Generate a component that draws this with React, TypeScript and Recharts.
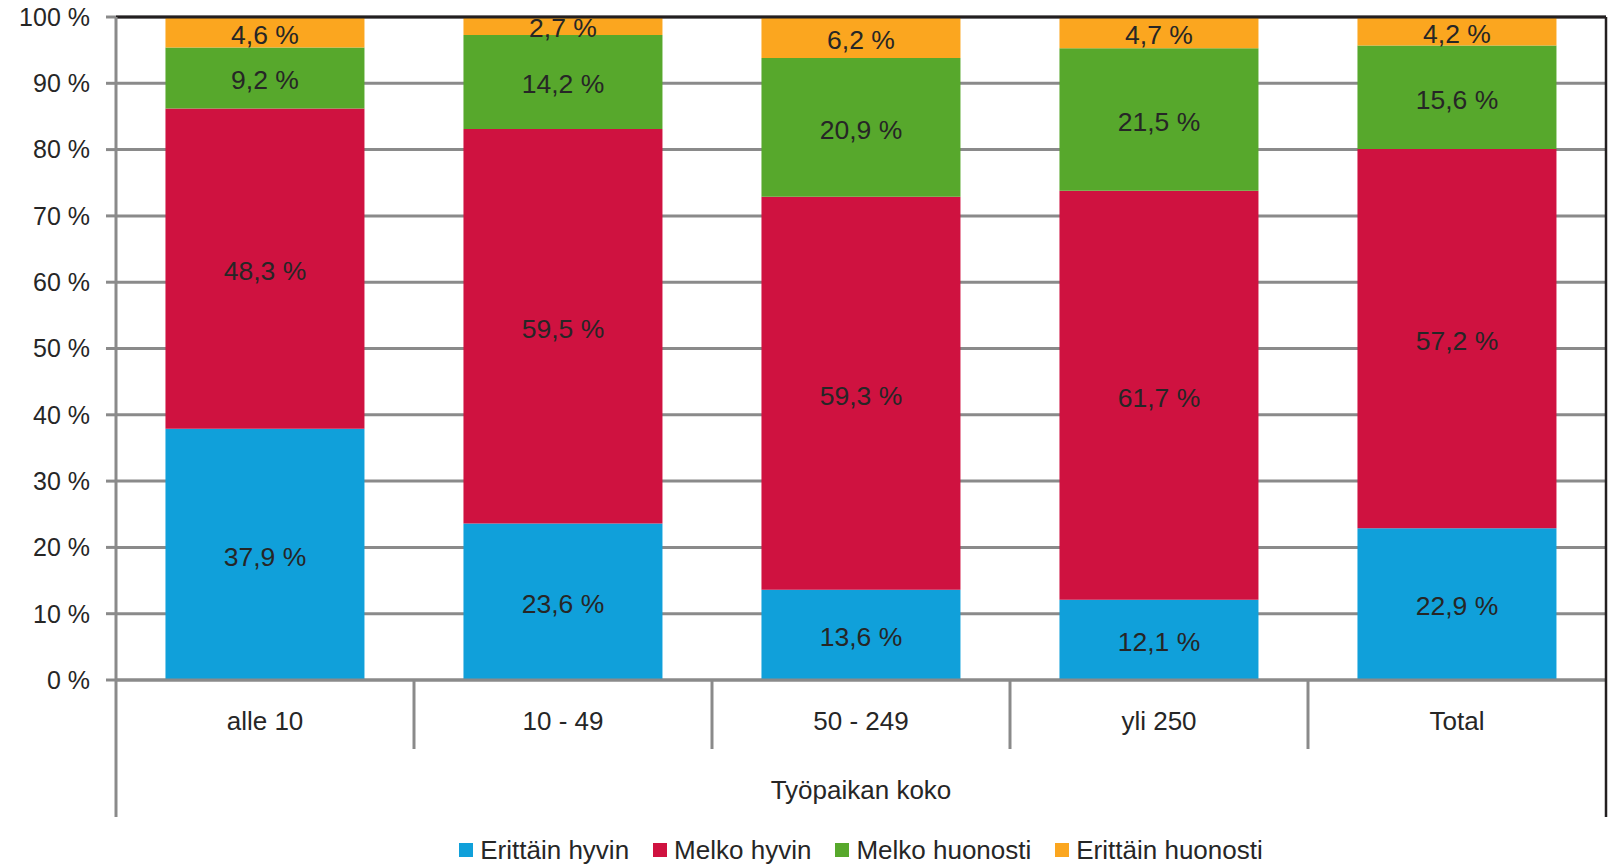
import React from 'react';
import { BarChart, Bar, XAxis, YAxis, CartesianGrid, LabelList, ReferenceLine, Legend } from 'recharts';

const categories = ['alle 10', '10 - 49', '50 - 249', 'yli 250', 'Total'];
const erittainHyvin = [37.9, 23.6, 13.6, 12.1, 22.9];
const melkoHyvin = [48.3, 59.5, 59.3, 61.7, 57.2];
const melkoHuonosti = [9.2, 14.2, 20.9, 21.5, 15.6];
const erittainHuonosti = [4.6, 2.7, 6.2, 4.7, 4.2];
const yTicks = [0, 10, 20, 30, 40, 50, 60, 70, 80, 90, 100];
const seriesNames = ['Erittäin hyvin', 'Melko hyvin', 'Melko huonosti', 'Erittäin huonosti'];
const seriesKeys = ['eh', 'mh', 'mhu', 'ehu'];
const seriesColors = ['#10A0DA', '#CF1240', '#57A82C', '#FBA61F'];
const axisTitle = 'Työpaikan koko';

const data = categories.map((c, i) => ({
  name: c,
  eh: erittainHyvin[i],
  mh: melkoHyvin[i],
  mhu: melkoHuonosti[i],
  ehu: erittainHuonosti[i],
}));

const W = 1608;
const H = 865;
const MARGIN = { top: 17, right: 2, bottom: 0, left: 0 };
const YAXIS_W = 116;
const XAXIS_H = 185;
const PLOT_W = W - MARGIN.left - MARGIN.right - YAXIS_W;
const PLOT_H = H - MARGIN.top - MARGIN.bottom - XAXIS_H;
const STEP = PLOT_W / categories.length;

const FONT = '"Liberation Sans", Arial, sans-serif';
const TEXT = '#262626';
const GRID = '#8a8a8a';
const DARK = '#231f20';

const fmt = (v: number) => v.toFixed(1).replace('.', ',') + ' %';

function CategoryTick(props: any) {
  const { x, y, payload, index } = props;
  const half = STEP / 2;
  const left = x - half;
  const right = x + half;
  const isLast = index === categories.length - 1;
  return (
    <g>
      {index === 0 ? (
        <line x1={left} x2={left} y1={y} y2={y + 137} stroke={GRID} strokeWidth={3} />
      ) : (
        <line x1={left} x2={left} y1={y} y2={y + 69} stroke={GRID} strokeWidth={3} />
      )}
      {isLast && (
        <line x1={right} x2={right} y1={y - PLOT_H} y2={y + 137} stroke={DARK} strokeWidth={2.5} />
      )}
      <text x={x} y={y + 50} textAnchor="middle" fontSize={26} fontFamily={FONT} fill={TEXT}>
        {payload.value}
      </text>
    </g>
  );
}

function LegendContent() {
  return (
    <div
      style={{
        display: 'flex',
        justifyContent: 'center',
        alignItems: 'center',
        fontFamily: FONT,
        fontSize: 26,
        lineHeight: 1,
        color: TEXT,
      }}
    >
      {seriesNames.map((n, i) => (
        <div key={n} style={{ display: 'flex', alignItems: 'center', marginRight: i < seriesNames.length - 1 ? 24 : 0 }}>
          <span style={{ display: 'inline-block', width: 14, height: 14, background: seriesColors[i], marginRight: 7 }} />
          <span>{n}</span>
        </div>
      ))}
    </div>
  );
}

export default function App() {
  return (
    <div style={{ position: 'absolute', left: 0, top: 0, width: W, height: H, background: '#fff' }}>
      <BarChart width={W} height={H} data={data} margin={MARGIN} barCategoryGap="16.6%">
        <CartesianGrid vertical={false} stroke={GRID} strokeWidth={3} />
        <XAxis
          dataKey="name"
          height={XAXIS_H}
          interval={0}
          tickLine={false}
          tickSize={0}
          tickMargin={0}
          axisLine={{ stroke: GRID, strokeWidth: 3 }}
          tick={(p: any) => <CategoryTick {...p} />}
          label={{
            content: (lp: any) => {
              const vb = lp.viewBox || {};
              return (
                <text
                  x={vb.x + vb.width / 2}
                  y={vb.y + 119}
                  textAnchor="middle"
                  fontSize={26}
                  fontFamily={FONT}
                  fill={TEXT}
                >
                  {axisTitle}
                </text>
              );
            },
          }}
        />
        <YAxis
          width={YAXIS_W}
          domain={[0, 100]}
          ticks={yTicks}
          allowDataOverflow
          tickFormatter={(v: number) => `${v} %`}
          tickSize={10}
          tickMargin={16}
          tickLine={{ stroke: GRID, strokeWidth: 3 }}
          axisLine={{ stroke: GRID, strokeWidth: 3 }}
          tick={{ fontSize: 25, fontFamily: FONT, fill: TEXT }}
        />
        {seriesKeys.map((k, i) => (
          <Bar key={k} dataKey={k} name={seriesNames[i]} stackId="a" fill={seriesColors[i]} isAnimationActive={false}>
            <LabelList
              dataKey={k}
              position="center"
              offset={0}
              formatter={(v: any) => fmt(Number(v))}
              style={{ fontSize: 26.5, fontFamily: FONT, fill: TEXT, transform: 'translateY(2px)' }}
            />
          </Bar>
        ))}
        <ReferenceLine y={100} stroke={DARK} strokeWidth={3} />
        <Legend
          layout="horizontal"
          verticalAlign="middle"
          align="center"
          content={() => <LegendContent />}
          wrapperStyle={{ top: 837, left: YAXIS_W, width: PLOT_W, height: 28 }}
        />
      </BarChart>
    </div>
  );
}
